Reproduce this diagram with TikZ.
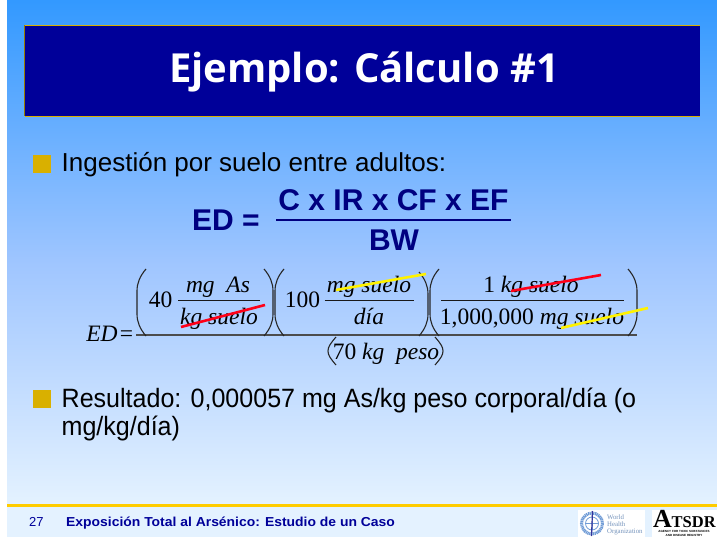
\documentclass[tikz,border=0pt]{standalone}
\usepackage{fontspec}
\setmainfont{Liberation Sans}
\newfontfamily\serifm{Liberation Serif}
\newfontfamily\titlef{Open Sans}
\newfontfamily\bodyn[FakeStretch=0.945]{Liberation Sans}
\newfontfamily\footw[FakeStretch=1.07]{Liberation Sans}
\definecolor{navy}{HTML}{000099}
\definecolor{deepnavy}{HTML}{000080}
\definecolor{gold}{HTML}{D9B000}
\definecolor{lineyel}{HTML}{FFCC00}
\definecolor{strikered}{HTML}{FF0018}
\definecolor{strikeyel}{HTML}{FFF200}
\definecolor{whoblue}{HTML}{6F9BD6}
\definecolor{bgtop}{HTML}{3399FF}
\definecolor{bgmid}{HTML}{A0C6FF}
\definecolor{bgbot}{HTML}{E4F2FF}
\tikzset{
  x=1pt,y=-1pt,
  body/.style={anchor=base west,inner sep=0pt,font=\fontsize{26}{26}\selectfont},
  bodynarrow/.style={anchor=base west,inner sep=0pt,font=\fontsize{26.5}{26.5}\selectfont\bodyn},
  big/.style={anchor=base,inner sep=0pt,text=deepnavy,font=\fontsize{30}{30}\selectfont\bfseries},
  mth/.style={anchor=base,inner sep=0pt,font=\fontsize{23.5}{23.5}\selectfont\serifm},
  rule/.style={line width=1pt,black!90},
  paren/.style={line width=1.1pt,black!85},
  strike/.style={line width=2.6pt},
  bulletbox/.style={fill=gold,draw=none,minimum size=18pt,inner sep=0pt,anchor=north west},
  whotext/.style={anchor=base west,inner sep=0pt,text=whoblue!70!gray,font=\fontsize{6.8}{6.8}\selectfont\serifm},
  atsmall/.style={anchor=base,inner sep=0pt,text depth=0pt,font=\fontsize{3}{3}\selectfont\bfseries},
}
\newcommand{\lparen}[3]{\draw[paren] (#1+9,#2) .. controls (#1+3,#2+7) and (#1,#2+14) .. (#1,#2+22) -- (#1,#3-22) .. controls (#1,#3-14) and (#1+3,#3-7) .. (#1+9,#3);}
\newcommand{\rparen}[3]{\draw[paren] (#1-9,#2) .. controls (#1-3,#2+7) and (#1,#2+14) .. (#1,#2+22) -- (#1,#3-22) .. controls (#1,#3-14) and (#1-3,#3-7) .. (#1-9,#3);}
\newcommand{\lparensm}[3]{\draw[paren] (#1+8,#2) .. controls (#1+2,#2+7) and (#1,#2+10) .. (#1,#2+14) .. controls (#1,#3-10) and (#1+2,#3-7) .. (#1+8,#3);}
\newcommand{\rparensm}[3]{\draw[paren] (#1-8,#2) .. controls (#1-2,#2+7) and (#1,#2+10) .. (#1,#2+14) .. controls (#1,#3-10) and (#1-2,#3-7) .. (#1-8,#3);}
\begin{document}
\begin{tikzpicture}
\useasboundingbox (0,0) rectangle (717,537);
\fill[white] (0,0) rectangle (717,537);
% background
\fill[top color=bgtop,bottom color=bgmid] (7,1) rectangle (717,265);
\fill[top color=bgmid,bottom color=bgbot] (7,265) rectangle (717,505);
\fill[bgbot] (7,505) rectangle (717,537);
% title
\fill[navy] (25,25.5) rectangle (700,116.5);
\draw[gold,line width=1pt] (25,25.5) -- (700,25.5) (25,116.5) -- (700,116.5);
\draw[gold!70!black,line width=1.2pt] (24.8,25.5) -- (24.8,116.5);
\node[anchor=base,inner sep=0pt,text=white,font=\fontsize{40}{40}\selectfont\titlef\bfseries] (title) at (364,83) {Ejemplo: Cálculo \#1};
% bullets
\node[bulletbox] (b1) at (33,155) {};
\node[body] (t1) at (61.5,172) {Ingestión por suelo entre adultos:};
\node[bulletbox] (b2) at (33,390) {};
\node[bodynarrow] (t2) at (61.5,407) {Resultado: 0,000057 mg As/kg peso corporal/día (o};
\node[bodynarrow] (t3) at (61.5,435) {mg/kg/día)};
% bold formula
\node[big] (edb) at (226,231) {ED =};
\node[big] (num) at (393.5,211) {C x IR x CF x EF};
\node[big] (den) at (394,251) {BW};
\draw[deepnavy,line width=1.4pt] (276,220) -- (511,220);
% detailed formula
\node[mth] (ed) at (102,341) {\itshape ED};
\node[mth] (eq) at (126.5,341) {=};
\node[mth] (n40) at (160.5,307) {40};
\node[mth] (a1) at (218,292) {\itshape mg\ \ As};
\node[mth] (a2) at (219,324) {\itshape kg suelo};
\node[mth] (n100) at (302.5,307) {100};
\node[mth] (b1t) at (369,292) {\itshape mg suelo};
\node[mth] (b2t) at (369,324) {\itshape día};
\node[mth] (c1) at (531,292) {1 \itshape kg suelo};
\node[mth] (c2) at (532,324) {1,000,000 \itshape mg suelo};
\node[mth] (d) at (386,359) {70 \itshape kg\ \ peso};
\draw[rule] (178,300) -- (260,300);
\draw[rule] (324.5,300) -- (414,300);
\draw[rule] (441,300) -- (624,300);
\draw[line width=1.2pt,black!70] (136,335) -- (637,335);
\lparen{137}{269}{336}
\rparen{273}{269}{336}
\lparen{275}{269}{336}
\rparen{428}{272}{336}
\lparen{430}{269}{336}
\rparen{637}{269}{336}
\lparensm{328}{337}{365}
\rparensm{443}{337}{365}
\coordinate (r1a) at (181,327); \coordinate (r1b) at (265,305);
\coordinate (y1a) at (336,290); \coordinate (y1b) at (426,274);
\coordinate (r2a) at (511,291); \coordinate (r2b) at (601,275);
\coordinate (y2a) at (561,328); \coordinate (y2b) at (648,308);
\draw[strike,strikered] (r1a) -- (r1b);
\draw[strike,strikeyel] (y1a) -- (y1b);
\draw[strike,strikered] (r2a) -- (r2b);
\draw[strike,strikeyel] (y2a) -- (y2b);
% footer
\draw[lineyel,line width=2.4pt] (7,505.5) -- (717,505.5);
\node[anchor=base west,inner sep=0pt,text=navy,font=\fontsize{13}{13}\selectfont] (pg) at (29,526) {27};
\node[anchor=base west,inner sep=0pt,text=navy,font=\fontsize{13}{13}\selectfont\footw\bfseries] (ft) at (66,526) {Exposición Total al Arsénico: Estudio de un Caso};
% WHO logo
\fill[white] (578,510) rectangle (645,537);
\fill[white] (652,510) rectangle (717,537);
\draw[whoblue,line width=3pt,dash pattern=on 1.2pt off .6pt] (592,523.5) circle (10.5);
\draw[whoblue,line width=.8pt] (592,523.5) circle (6.5);
\draw[whoblue,line width=.7pt] (585.5,523.5) -- (598.5,523.5) (592,517) -- (592,530);
\draw[deepnavy!80,line width=1.2pt] (592.5,511) -- (591.5,536);
\node[whotext] (w1) at (607,519) {World};
\node[whotext] (w2) at (607,526) {Health};
\node[whotext] (w3) at (607,533) {Organization};
% ATSDR logo
\node[anchor=base west,inner sep=0pt,text depth=0pt,font=\fontsize{26}{26}\selectfont\serifm\bfseries] (atA) at (653,527.5) {A};
\node[anchor=base west,inner sep=0pt,text depth=0pt,font=\fontsize{16.5}{16.5}\selectfont\serifm\bfseries] (atB) at (671.5,527.5) {TSDR};
\node[atsmall] (at1) at (684,532.8) {AGENCY FOR TOXIC SUBSTANCES};
\node[atsmall] (at2) at (684,536.3) {AND DISEASE REGISTRY};
\end{tikzpicture}
\end{document}
